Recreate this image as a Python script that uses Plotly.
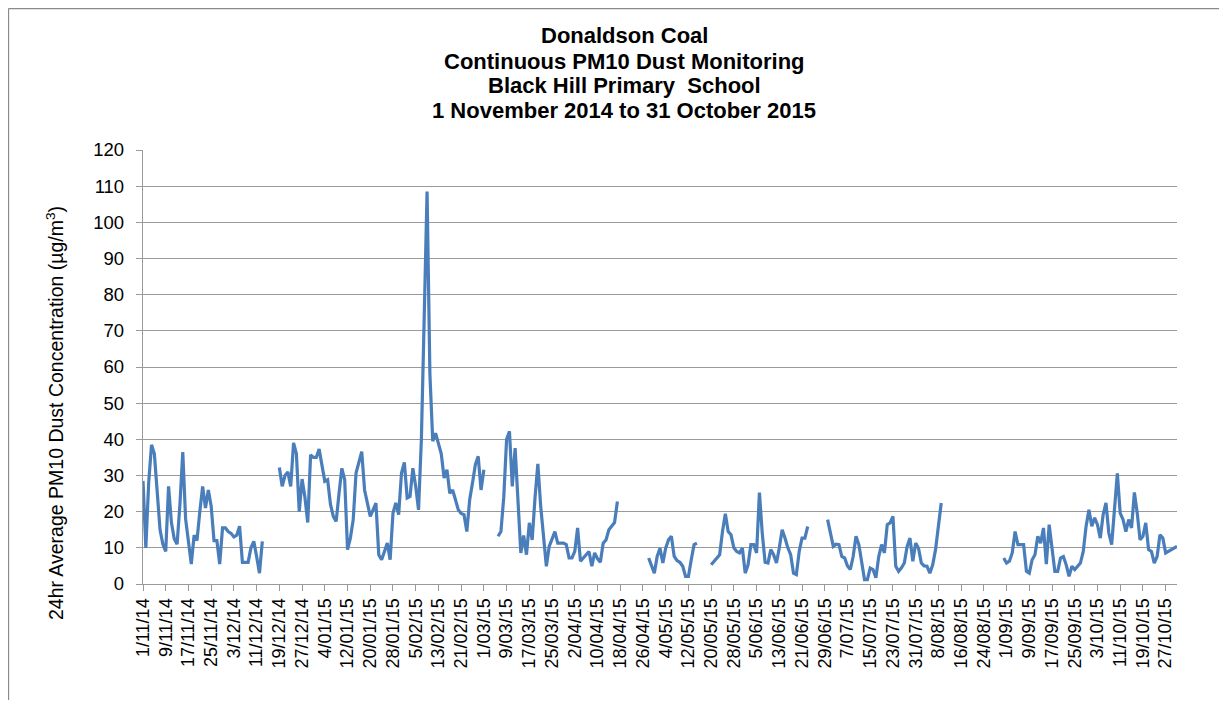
import pandas as pd
import plotly.graph_objects as go

N = None
# Daily 24hr average PM10 (ug/m3), by month
nov14 = [28.5, 10, 28, 38.5, 36, 24, 15, 11, 9, 27, 17, 12.5, 11, 22, 36.5, 18, 11, 5.5, 13.5, 12,
         20, 27, 21, 26, 21.5, 12, 12, 5.5, 15.5, 15.5]
dec14 = [14.5, 14, 13, 13.5, 16, 6, 6, 6, 10, 11.8, 7.6, 3, 11.8, N, N, N, N, N,
         32.2, 27, 30, 31, 27, 39, 36, 20, 29, 24, 17, 35.7, 35]
jan15 = [35, 37.3, 33, 28.4, 28.8, 22, 18.7, 17.3, 25, 32, 28.8, 9.5, 12.7, 17.8, 30.7, 34, 36.6,
         26, 22, 18.7, 20.5, 22.4, 8.1, 6.7, 9, 11.3, 6.7, 19.6, 22.4, 19.2, 30.7]
feb15 = [33.6, 23.8, 24.2, 32, 27, 20.5, 40, 74, 108.5, 58, 39.5, 41.7, 38.5, 36, 29.3, 31.6,
         25.1, 26, 23.3, 20.5, 19.5, 19.2, 14.5, 23.3, 28, 33, 35.3, 26]
mar15 = [31.6, N, N, N, N, 13.2, 14.5, 24, 40, 42.2, 27, 37.6, 21.5, 8.6, 13.4, 8.1, 16.9, 12.2,
         23.8, 33.2, 21.5, 12.2, 4.9, 10.4, 12.2, 14.5, 11.3, 11.3, 11.3, 10.9, 7.2]
apr15 = [7.2, 9, 15.5, 6.3, 7.2, 8, 9, 4.9, 8.6, 7, 6, 11.3, 12.2, 15, 15.9, 17, 22.8,
         N, N, N, N, N, N, N, N, N, N, 7.2, 5, 3]
may15 = [7.6, 9.9, 5.8, 9.9, 12.2, 13.2, 7.6, 6.5, 6, 4.9, 2.1, 2.1, 6.7, 10.9, 11.3, N, N, N, N,
         5.3, 6.3, 7, 8.1, 14.5, 19.4, 14.5, 13.6, 10, 9, 8.6, 9.9]
jun15 = [3, 5.3, 10.9, 10.9, 8.6, 25.3, 14, 6, 5.8, 9.5, 8.1, 5.8, 10, 15, 12.7, 10, 8.1, 3, 2.6,
         9, 12.7, 12.7, 15.9, N, N, N, N, N, N, 17.8]
jul15 = [13.5, 10.4, 11, 10.9, 7.6, 7.2, 5, 4, 7.6, 13.2, 10.9, 6.3, 1.2, 1.2, 4.4, 4, 1.7, 7.6,
         10.9, 8.6, 16.4, 16.9, 18.7, 4.9, 3.5, 4.5, 5.8, 10.4, 12.7, 6.3, 11.3]
aug15 = [9.9, 5.8, 5, 4.9, 3, 5.3, 9.5, 16.9, 22.4] + [N] * 21 + [7.2]
sep15 = [5.8, 6.3, 8.6, 14.5, 10.9, 10.9, 10.9, 3.5, 3, 6.7, 8.1, 13.2, 11.3, 15.5, 5.5, 16.4,
         9.3, 3.5, 3.5, 7.2, 7.6, 5.3, 2.1, 4.9, 4, 5, 5.8, 9, 16, 20.5]
oct15 = [16, 18.3, 16.4, 12.7, 19.2, 22.4, 14.1, 10.9, 19.6, 30.6, 19.6, 17.8, 14.5, 17.8, 15.5,
         25.3, 19.6, 12.2, 13.2, 16.9, 9.5, 9, 5.8, 7.6, 13.6, 12.7, 8.6, 9, 9.5, 10, 10.4]

pm10 = nov14 + dec14 + jan15 + feb15 + mar15 + apr15 + may15 + jun15 + jul15 + aug15 + sep15 + oct15
dates = pd.date_range("2014-11-01", "2015-10-31", freq="D").strftime("%Y-%m-%d").tolist()

tick_dates = pd.date_range("2014-11-01", "2015-10-31", freq="8D").strftime("%Y-%m-%d").tolist()
tick_labels = ["1/11/14", "9/11/14", "17/11/14", "25/11/14", "3/12/14", "11/12/14", "19/12/14",
               "27/12/14", "4/01/15", "12/01/15", "20/01/15", "28/01/15", "5/02/15", "13/02/15",
               "21/02/15", "1/03/15", "9/03/15", "17/03/15", "25/03/15", "2/04/15", "10/04/15",
               "18/04/15", "26/04/15", "4/05/15", "12/05/15", "20/05/15", "28/05/15", "5/06/15",
               "13/06/15", "21/06/15", "29/06/15", "7/07/15", "15/07/15", "23/07/15", "31/07/15",
               "8/08/15", "16/08/15", "24/08/15", "1/09/15", "9/09/15", "17/09/15", "25/09/15",
               "3/10/15", "11/10/15", "19/10/15", "27/10/15"]
y_ticks = list(range(0, 121, 10))

title_lines = ["Donaldson Coal", "Continuous PM10 Dust Monitoring", "Black Hill Primary  School",
               "1 November 2014 to 31 October 2015"]
y_title = "24hr Average PM10 Dust Concentration (µg/m<sup>3</sup>)"

# The page body has an 8px margin; figure sized so it fits the 1227x708 window.
OFF = 8
W, H = 1227 - 2 * OFF, 708 - 2 * OFF
L, T = 143 - OFF, 150 - OFF
R = W - (1177 - OFF)
B = H - (584 - OFF)
pw, ph = W - L - R, H - T - B


def px(xs):  # screen x -> paper
    return (xs - OFF - L) / pw


def py(ys):  # screen y -> paper
    return (H - B - (ys - OFF)) / ph


FONT = "Liberation Sans, Arial, sans-serif"
GRID = "#9a9a9a"

fig = go.Figure()
fig.add_trace(go.Scatter(x=dates, y=pm10, mode="lines", connectgaps=False,
                         line=dict(color="#4a7ebb", width=3.2), showlegend=False))

annotations = []
for txt, ypix in zip(title_lines, [36, 61, 86, 111]):
    annotations.append(dict(text="<b>%s</b>" % txt, x=px(624), y=py(ypix), xref="paper", yref="paper",
                            xanchor="center", yanchor="middle", showarrow=False,
                            font=dict(family=FONT, size=22, color="#000")))
annotations.append(dict(text=y_title, x=px(55), y=py(413), xref="paper", yref="paper",
                        xanchor="center", yanchor="middle", showarrow=False, textangle=-90,
                        font=dict(family=FONT, size=19.5, color="#000")))

shapes = [
    dict(type="line", xref="paper", yref="paper", x0=px(8.5), x1=px(8.5), y0=py(8.5), y1=py(720),
         line=dict(color="#8a8a8a", width=1.3)),
    dict(type="line", xref="paper", yref="paper", x0=px(8.5), x1=px(1240), y0=py(8.5), y1=py(8.5),
         line=dict(color="#8a8a8a", width=1.3)),
]

fig.update_layout(
    width=W, height=H,
    margin=dict(l=L, r=R, t=T, b=B, autoexpand=False),
    paper_bgcolor="white", plot_bgcolor="white",
    font=dict(family=FONT, color="#000"),
    annotations=annotations, shapes=shapes,
    xaxis=dict(range=[dates[0], dates[-1]], tickmode="array", tickvals=tick_dates, ticktext=tick_labels,
               tickangle=-90, tickfont=dict(size=18, family=FONT, color="#000"),
               showgrid=False, showline=True, linecolor=GRID, linewidth=1.3,
               ticks="outside", ticklen=6, tickcolor=GRID, tickwidth=1.3, zeroline=False),
    yaxis=dict(range=[0, 120], tickmode="array", tickvals=y_ticks,
               tickfont=dict(size=18.5, family=FONT, color="#000"),
               showgrid=True, gridcolor=GRID, gridwidth=1.3,
               showline=True, linecolor=GRID, linewidth=1.3,
               ticks="outside", ticklen=6, tickcolor=GRID, tickwidth=1.3, zeroline=False,
               ticklabelstandoff=8),
)

fig.write_html("out.html")
